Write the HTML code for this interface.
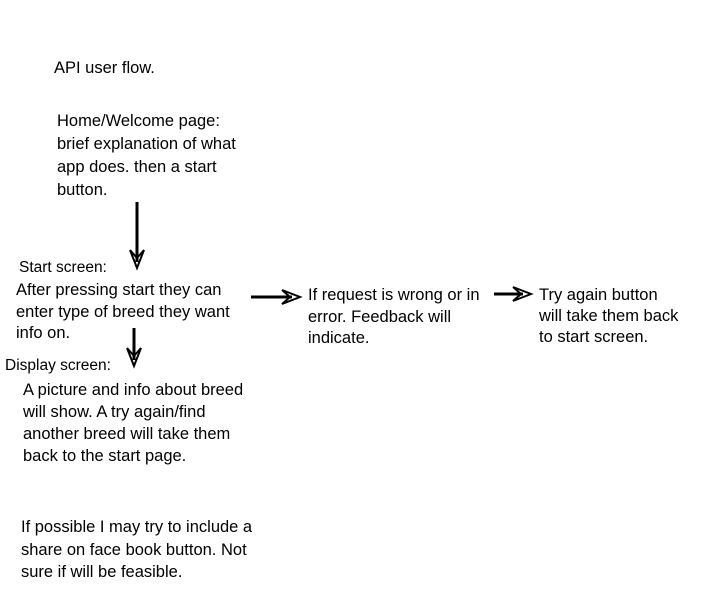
<!DOCTYPE html>
<html><head><style>
body{margin:0;width:710px;height:599px;background:#fff;position:relative;font-family:"Liberation Sans",sans-serif;color:#000;overflow:hidden}
.t{position:absolute;font-size:16.5px;white-space:nowrap}
</style></head><body>
<div class="t" style="left:54px;top:57px;line-height:22px">API user flow.</div>
<div class="t" style="left:57px;top:110px;line-height:23px">Home/Welcome page:<br>brief explanation of what<br>app does. then a start<br>button.</div>
<div class="t" style="left:19px;top:259px;font-size:15.5px;line-height:18px">Start screen:</div>
<div class="t" style="left:16px;top:280px;line-height:21.5px">After pressing start they can<br>enter type of breed they want<br>info on.</div>
<div class="t" style="left:5px;top:357px;font-size:15.5px;line-height:18px">Display screen:</div>
<div class="t" style="left:23px;top:379px;line-height:22px">A picture and info about breed<br>will show. A try again/find<br>another breed will take them<br>back to the start page.</div>
<div class="t" style="left:308px;top:285px;line-height:21.5px">If request is wrong or in<br>error. Feedback will<br>indicate.</div>
<div class="t" style="left:539px;top:285px;line-height:21px">Try again button<br>will take them back<br>to start screen.</div>
<div class="t" style="left:21px;top:516px;line-height:22.5px">If possible I may try to include a<br>share on face book button. Not<br>sure if will be feasible.</div>
<svg width="710" height="599" style="position:absolute;left:0;top:0" fill="none" stroke="#000" stroke-width="2">
<line x1="137" y1="202" x2="137" y2="262" stroke-width="3"/>
<polyline points="130,250 137,268 144,250 137,258 130,250"/>
<line x1="134" y1="328" x2="134" y2="360" stroke-width="3"/>
<polyline points="127,348 134,366 141,348 134,356 127,348"/>
<line x1="251" y1="297" x2="292" y2="297" stroke-width="3"/>
<polyline points="282,290 300,297 282,304 290,297 282,290"/>
<line x1="494" y1="294" x2="523" y2="294" stroke-width="3"/>
<polyline points="513,287 531,294 513,301 521,294 513,287"/>
</svg>
</body></html>
